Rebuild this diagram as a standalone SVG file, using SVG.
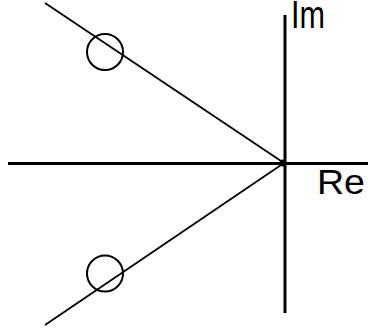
<svg xmlns="http://www.w3.org/2000/svg" width="369" height="330" viewBox="0 0 369 330">
<style>
.axis{stroke:#000;stroke-width:3;fill:none}
.ray{stroke:#000;stroke-width:1.8;fill:none}
.zero{stroke:#000;stroke-width:2;fill:none}
.lbl{font-family:"Liberation Sans",Arial,sans-serif;fill:#000}
</style>
<rect width="369" height="330" fill="#fff"/>
<g id="connectors">
<line class="axis" x1="8" y1="163.5" x2="368" y2="163.5"/>
<line class="axis" x1="285" y1="15" x2="285" y2="313"/>
<line class="ray" x1="45" y1="3" x2="284" y2="163"/>
<line class="ray" x1="45" y1="325" x2="284" y2="163"/>
</g>
<g id="origin"><circle cx="283" cy="163" r="3.5" fill="#000"/></g>
<g id="zero-upper"><circle class="zero" cx="105" cy="52" r="18"/></g>
<g id="zero-lower"><circle class="zero" cx="105" cy="273.5" r="18"/></g>
<g id="label-im"><text class="lbl" x="291" y="28" font-size="38" textLength="34" lengthAdjust="spacingAndGlyphs">Im</text></g>
<g id="label-re"><text class="lbl" x="317" y="193.5" font-size="35" textLength="48" lengthAdjust="spacingAndGlyphs">Re</text></g>
</svg>
